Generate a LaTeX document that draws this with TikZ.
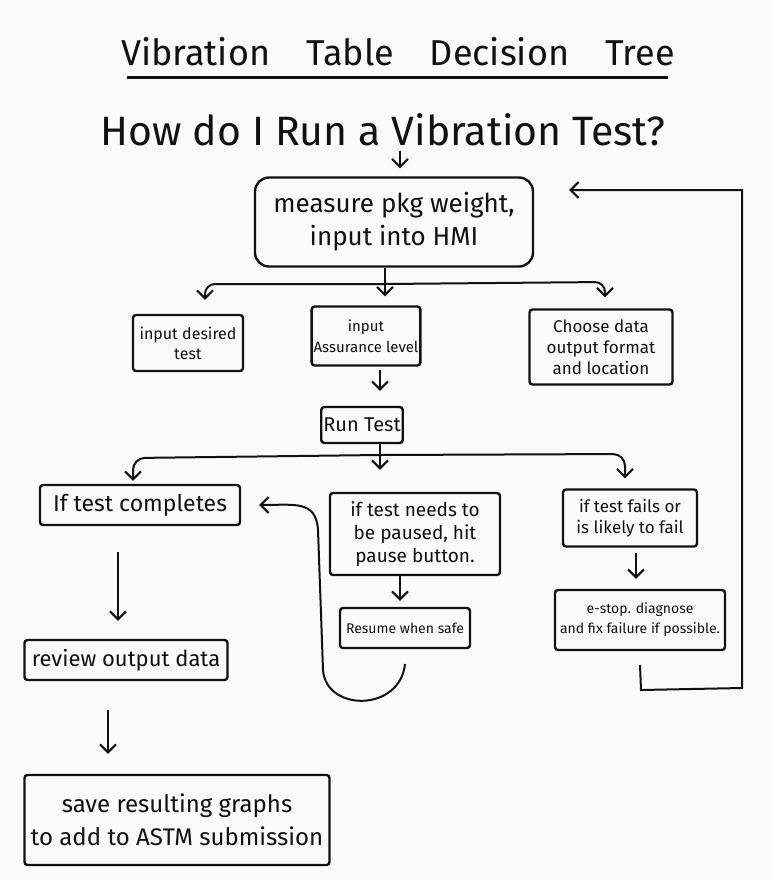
\documentclass[tikz,border=0pt]{standalone}
\usepackage{fontspec}
\setmainfont{Fira Sans}
\usetikzlibrary{arrows.meta}
\definecolor{bg}{HTML}{FAFAFA}
\definecolor{ink}{HTML}{111111}
\newcommand{\fsz}[2]{\fontsize{#1}{#2}\selectfont}
\begin{document}
\begin{tikzpicture}[x=1pt,y=-1pt,
  box/.style={draw=ink, line width=2.4pt, rounded corners=3pt, inner sep=2pt, align=center, text=ink},
  txt/.style={text=ink, inner sep=0pt},
  arr/.style={draw=ink, line width=2pt, -{Straight Barb[length=8pt,width=16pt]}},
  plain/.style={draw=ink, line width=2.2pt}]
\fill[bg] (0,0) rectangle (773,879);
\useasboundingbox (0,0) rectangle (773,879);

% titles
\node[txt, font=\fsz{36}{42}] (title) at (398,52) {Vibration\quad Table\quad Decision\quad Tree};
\coordinate (ulL) at (127,77);
\coordinate (ulR) at (668,77);
\draw[draw=ink, line width=3pt] (ulL) -- (ulR);
\node[txt, font=\fsz{41}{46}] (question) at (383,130) {How do I Run a Vibration Test?};

% boxes
\node[box, rounded corners=14pt, minimum width=278pt, minimum height=89pt, font=\fsz{26}{33}] (measure) at (394,222) {measure pkg weight,\\input into HMI};
\node[box, minimum width=110pt, minimum height=56pt, font=\fsz{16}{20}] (desired) at (188,343) {input desired\\test};
\node[box, minimum width=107pt, minimum height=59pt, font=\fsz{15}{21}] (assure) at (366,336) {input\\Assurance level};
\node[box, minimum width=143pt, minimum height=75pt, font=\fsz{17}{21}] (choose) at (601,347) {Choose data\\output format\\and location};
\node[box, minimum width=75pt, minimum height=36pt, font=\fsz{20}{24}] (run) at (362,425) {Run Test};
\node[box, minimum width=200pt, minimum height=40pt, font=\fsz{23}{26}] (complete) at (140,505) {If test completes};
\node[box, minimum width=170pt, minimum height=82pt, font=\fsz{19}{23}] (pause) at (415,534) {if test needs to\\be paused, hit\\pause button.};
\node[box, minimum width=134pt, minimum height=57pt, font=\fsz{17}{21}] (fails) at (630,518) {if test fails or\\is likely to fail};
\node[box, minimum width=130pt, minimum height=40pt, font=\fsz{14}{17}] (resume) at (405,628) {Resume when safe};
\node[box, minimum width=170pt, minimum height=60pt, font=\fsz{14}{20}] (estop) at (640,620) {e-stop. diagnose\\and fix failure if possible.};
\node[box, minimum width=203pt, minimum height=40pt, font=\fsz{22}{26}] (review) at (126,660) {review output data};
\node[box, minimum width=305pt, minimum height=90pt, font=\fsz{24}{33}] (save) at (177,820) {save resulting graphs\\to add to ASTM submission};

% arrow below question
\coordinate (q1) at (400,151);
\draw[arr] (q1) -- ([yshift=8pt]measure.north -| q1);

% branch from measure
\coordinate (j1) at (385,284);
\coordinate (j1l) at (205,284);
\coordinate (j1r) at (605,282);
\draw[plain] (measure.south -| j1) -- (j1);
\draw[arr] (j1) -- ([yshift=9pt]assure.north -| j1);
\draw[arr, rounded corners=10pt] (j1) -- (j1l) -- ([yshift=14pt]desired.north -| j1l);
\draw[arr, rounded corners=10pt] (j1) -- (j1r) -- ([yshift=11pt]choose.north -| j1r);

% assurance to run test
\coordinate (a1) at (380,370);
\draw[arr] (a1) -- ([yshift=15pt]run.north -| a1);

% branch from run test
\coordinate (j2) at (380,455);
\coordinate (j2l) at (133,458);
\coordinate (j2r) at (625,454);
\draw[plain] (run.south -| j2) -- (j2);
\draw[arr] (j2) -- ([yshift=22pt]pause.north -| j2);
\draw[arr, rounded corners=12pt] (j2) -- (j2l) -- ([yshift=3pt]complete.north -| j2l);
\draw[arr, rounded corners=12pt] (j2) -- (j2r) -- ([yshift=10pt]fails.north -| j2r);

% left column
\coordinate (c1) at (118,552);
\draw[arr] (c1) -- ([yshift=18pt]review.north -| c1);
\coordinate (c2) at (108,710);
\draw[arr] (c2) -- ([yshift=20pt]save.north -| c2);

% middle column
\coordinate (m1) at (400,575);
\draw[arr] (pause.south -| m1) -- ([yshift=6pt]resume.north -| m1);
\coordinate (loopstart) at (405,664);
\draw[arr] (loopstart) .. controls (400,712) and (326,712) .. (323,670)
  -- (318,530) .. controls (316,500) and (295,505) .. ([xshift=18pt]complete.east);

% right column
\coordinate (r1) at (636,553);
\draw[arr] (r1) -- ([yshift=10pt]estop.north -| r1);
\coordinate (r2) at (640,665);
\coordinate (rtop) at (742,190);
\draw[arr] (r2) -- (641,690) -- (742,688) -- (rtop) -- ([xshift=35pt]measure.east |- rtop);
\end{tikzpicture}
\end{document}
